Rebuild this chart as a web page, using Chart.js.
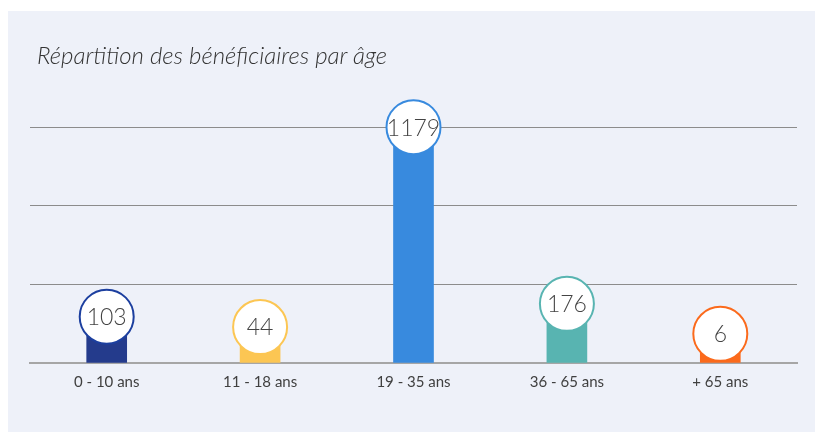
<!DOCTYPE html>
<html>
<head>
<meta charset="utf-8">
<script src="https://cdn.jsdelivr.net/npm/chart.js@4.4.1/dist/chart.umd.min.js"></script>
<style>
  html, body { margin: 0; padding: 0; background: #ffffff; }
  #panel {
    position: absolute; left: 8px; top: 11px; width: 807px; height: 421px;
    background: #eef1f9;
  }
  #titre {
    position: absolute; left: 29px; top: 29px;
    font-family: Lato, "Open Sans", sans-serif; font-style: italic; font-weight: 300;
    font-size: 24px; color: #333;
  }
  #graph { position: absolute; left: 0; top: 0; }
</style>
</head>
<body>
<div id="panel">
  <canvas id="graph" width="807" height="421"></canvas>
  <div id="titre">Répartition des bénéficiaires par âge</div>
</div>
<script>
// données
const tranches = ['0 - 10 ans', '11 - 18 ans', '19 - 35 ans', '36 - 65 ans', '+ 65 ans'];
const beneficiaires = [103, 44, 1179, 176, 6];
const couleurs = ['#243b8c', '#fcc653', '#388ade', '#58b4b1', '#fb6a1c'];
const contours = ['#1c3f9f', '#fcc653', '#388ade', '#58b4b1', '#fb6a1c'];

// échelle : le bas de l'axe est sous le zéro pour laisser la place aux pastilles
const Y_MIN = -160;
const Y_MAX = 1180;
const RAYON = 27;

const pastilles = {
  id: 'pastilles',
  afterDatasetsDraw(chart) {
    const ctx = chart.ctx;
    const meta = chart.getDatasetMeta(0);
    meta.data.forEach((bar, i) => {
      ctx.save();
      ctx.beginPath();
      ctx.arc(bar.x, bar.y, RAYON, 0, Math.PI * 2);
      ctx.fillStyle = '#ffffff';
      ctx.fill();
      ctx.lineWidth = 2;
      ctx.strokeStyle = contours[i];
      ctx.stroke();
      ctx.fillStyle = '#444444';
      ctx.font = '300 23px Lato, "Open Sans", sans-serif';
      ctx.textAlign = 'center';
      ctx.textBaseline = 'middle';
      ctx.fillText(String(beneficiaires[i]), bar.x, bar.y + 1);
      ctx.restore();
    });
  }
};

new Chart(document.getElementById('graph'), {
  type: 'bar',
  data: {
    labels: tranches,
    datasets: [{
      data: beneficiaires,
      backgroundColor: couleurs,
      barThickness: 40,
      base: Y_MIN
    }]
  },
  options: {
    responsive: false,
    animation: false,
    layout: { padding: { left: 22, right: 18, top: 116, bottom: 39 } },
    plugins: {
      legend: { display: false },
      tooltip: { enabled: false }
    },
    scales: {
      x: {
        grid: { display: false },
        border: { color: '#a6a6a6', width: 2 },
        ticks: {
          color: '#404040',
          padding: 2,
          font: { family: 'Lato, "Open Sans", sans-serif', size: 15 }
        }
      },
      y: {
        min: Y_MIN,
        max: Y_MAX,
        afterBuildTicks(scale) {
          scale.ticks = [0, 1, 2, 3].map(i => ({ value: Y_MIN + i * (Y_MAX - Y_MIN) / 3 }));
        },
        ticks: { display: false },
        border: { display: false },
        grid: { color: '#8c8c8c', lineWidth: 1, drawTicks: false }
      }
    }
  },
  plugins: [pastilles]
});
</script>
</body>
</html>
